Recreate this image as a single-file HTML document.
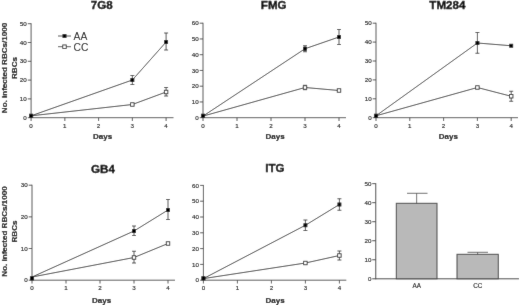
<!DOCTYPE html>
<html><head><meta charset="utf-8"><style>
html,body{margin:0;padding:0;background:#fff;}
body{width:520px;height:305px;overflow:hidden;}
svg{display:block;font-family:"Liberation Sans",sans-serif;fill:#000;}
</style></head><body>
<svg width="520" height="305" viewBox="0 0 520 305">
<defs><filter id="bl" x="0" y="0" width="520" height="305" filterUnits="userSpaceOnUse"><feConvolveMatrix order="3" kernelMatrix="0.01 0.055 0.01 0.055 0.74 0.055 0.01 0.055 0.01" divisor="1" edgeMode="duplicate" preserveAlpha="true"/></filter></defs>
<g filter="url(#bl)">
<rect width="520" height="305" fill="#fff"/>
<line x1="31.1" y1="23.25" x2="31.1" y2="118.15" stroke="#444" stroke-width="0.9"/>
<line x1="31.1" y1="117.7" x2="173.5" y2="117.7" stroke="#444" stroke-width="0.9"/>
<line x1="27.8" y1="117.7" x2="31.1" y2="117.7" stroke="#444" stroke-width="0.9"/>
<text x="26.7" y="119.85" font-size="6.2" text-anchor="end" stroke="#000" stroke-width="0.12">0</text>
<line x1="27.8" y1="98.9" x2="31.1" y2="98.9" stroke="#444" stroke-width="0.9"/>
<text x="26.7" y="101.05" font-size="6.2" text-anchor="end" stroke="#000" stroke-width="0.12">10</text>
<line x1="27.8" y1="80.1" x2="31.1" y2="80.1" stroke="#444" stroke-width="0.9"/>
<text x="26.7" y="82.25" font-size="6.2" text-anchor="end" stroke="#000" stroke-width="0.12">20</text>
<line x1="27.8" y1="61.3" x2="31.1" y2="61.3" stroke="#444" stroke-width="0.9"/>
<text x="26.7" y="63.45" font-size="6.2" text-anchor="end" stroke="#000" stroke-width="0.12">30</text>
<line x1="27.8" y1="42.5" x2="31.1" y2="42.5" stroke="#444" stroke-width="0.9"/>
<text x="26.7" y="44.65" font-size="6.2" text-anchor="end" stroke="#000" stroke-width="0.12">40</text>
<line x1="27.8" y1="23.7" x2="31.1" y2="23.7" stroke="#444" stroke-width="0.9"/>
<text x="26.7" y="25.85" font-size="6.2" text-anchor="end" stroke="#000" stroke-width="0.12">50</text>
<line x1="31.1" y1="117.7" x2="31.1" y2="121" stroke="#444" stroke-width="0.9"/>
<text x="31.1" y="127.5" font-size="6.2" text-anchor="middle" stroke="#000" stroke-width="0.12">0</text>
<line x1="64.85" y1="117.7" x2="64.85" y2="121" stroke="#444" stroke-width="0.9"/>
<text x="64.85" y="127.5" font-size="6.2" text-anchor="middle" stroke="#000" stroke-width="0.12">1</text>
<line x1="98.6" y1="117.7" x2="98.6" y2="121" stroke="#444" stroke-width="0.9"/>
<text x="98.6" y="127.5" font-size="6.2" text-anchor="middle" stroke="#000" stroke-width="0.12">2</text>
<line x1="132.35" y1="117.7" x2="132.35" y2="121" stroke="#444" stroke-width="0.9"/>
<text x="132.35" y="127.5" font-size="6.2" text-anchor="middle" stroke="#000" stroke-width="0.12">3</text>
<line x1="166.1" y1="117.7" x2="166.1" y2="121" stroke="#444" stroke-width="0.9"/>
<text x="166.1" y="127.5" font-size="6.2" text-anchor="middle" stroke="#000" stroke-width="0.12">4</text>
<text x="90.8" y="9.4" font-size="11.6" text-anchor="start" font-weight="bold" stroke="#000" stroke-width="0.35">7G8</text>
<text x="93" y="139.3" font-size="8" text-anchor="start" font-weight="bold" stroke="#000" stroke-width="0.15">Days</text>
<polyline fill="none" stroke="#262626" stroke-width="0.85" points="31.1,115.82 132.35,80 166.1,42"/>
<polyline fill="none" stroke="#262626" stroke-width="0.85" points="31.1,115.82 132.35,104.5 166.1,92"/>
<line x1="132.35" y1="75.5" x2="132.35" y2="84.5" stroke="#2a2a2a" stroke-width="0.8"/>
<line x1="130.35" y1="75.5" x2="134.35" y2="75.5" stroke="#2a2a2a" stroke-width="0.8"/>
<line x1="130.35" y1="84.5" x2="134.35" y2="84.5" stroke="#2a2a2a" stroke-width="0.8"/>
<line x1="166.1" y1="33" x2="166.1" y2="50" stroke="#2a2a2a" stroke-width="0.8"/>
<line x1="164.1" y1="33" x2="168.1" y2="33" stroke="#2a2a2a" stroke-width="0.8"/>
<line x1="164.1" y1="50" x2="168.1" y2="50" stroke="#2a2a2a" stroke-width="0.8"/>
<rect x="130.4" y="78.05" width="3.9" height="3.9" fill="#000"/>
<rect x="164.15" y="40.05" width="3.9" height="3.9" fill="#000"/>
<line x1="166.1" y1="87.5" x2="166.1" y2="96" stroke="#2a2a2a" stroke-width="0.8"/>
<line x1="164.1" y1="87.5" x2="168.1" y2="87.5" stroke="#2a2a2a" stroke-width="0.8"/>
<line x1="164.1" y1="96" x2="168.1" y2="96" stroke="#2a2a2a" stroke-width="0.8"/>
<rect x="130.6" y="102.75" width="3.5" height="3.5" fill="#fff" stroke="#222" stroke-width="0.85"/>
<rect x="164.35" y="90.25" width="3.5" height="3.5" fill="#fff" stroke="#222" stroke-width="0.85"/>
<rect x="29.05" y="113.75" width="4.1" height="4.1" fill="#000"/>
<line x1="203" y1="22.75" x2="203" y2="118.15" stroke="#444" stroke-width="0.9"/>
<line x1="203" y1="117.7" x2="346" y2="117.7" stroke="#444" stroke-width="0.9"/>
<line x1="199.7" y1="117.7" x2="203" y2="117.7" stroke="#444" stroke-width="0.9"/>
<text x="198.6" y="119.85" font-size="6.2" text-anchor="end" stroke="#000" stroke-width="0.12">0</text>
<line x1="199.7" y1="101.95" x2="203" y2="101.95" stroke="#444" stroke-width="0.9"/>
<text x="198.6" y="104.1" font-size="6.2" text-anchor="end" stroke="#000" stroke-width="0.12">10</text>
<line x1="199.7" y1="86.2" x2="203" y2="86.2" stroke="#444" stroke-width="0.9"/>
<text x="198.6" y="88.35" font-size="6.2" text-anchor="end" stroke="#000" stroke-width="0.12">20</text>
<line x1="199.7" y1="70.45" x2="203" y2="70.45" stroke="#444" stroke-width="0.9"/>
<text x="198.6" y="72.6" font-size="6.2" text-anchor="end" stroke="#000" stroke-width="0.12">30</text>
<line x1="199.7" y1="54.7" x2="203" y2="54.7" stroke="#444" stroke-width="0.9"/>
<text x="198.6" y="56.85" font-size="6.2" text-anchor="end" stroke="#000" stroke-width="0.12">40</text>
<line x1="199.7" y1="38.95" x2="203" y2="38.95" stroke="#444" stroke-width="0.9"/>
<text x="198.6" y="41.1" font-size="6.2" text-anchor="end" stroke="#000" stroke-width="0.12">50</text>
<line x1="199.7" y1="23.2" x2="203" y2="23.2" stroke="#444" stroke-width="0.9"/>
<text x="198.6" y="25.35" font-size="6.2" text-anchor="end" stroke="#000" stroke-width="0.12">60</text>
<line x1="203" y1="117.7" x2="203" y2="121" stroke="#444" stroke-width="0.9"/>
<text x="203" y="127.5" font-size="6.2" text-anchor="middle" stroke="#000" stroke-width="0.12">0</text>
<line x1="237" y1="117.7" x2="237" y2="121" stroke="#444" stroke-width="0.9"/>
<text x="237" y="127.5" font-size="6.2" text-anchor="middle" stroke="#000" stroke-width="0.12">1</text>
<line x1="271" y1="117.7" x2="271" y2="121" stroke="#444" stroke-width="0.9"/>
<text x="271" y="127.5" font-size="6.2" text-anchor="middle" stroke="#000" stroke-width="0.12">2</text>
<line x1="305" y1="117.7" x2="305" y2="121" stroke="#444" stroke-width="0.9"/>
<text x="305" y="127.5" font-size="6.2" text-anchor="middle" stroke="#000" stroke-width="0.12">3</text>
<line x1="339" y1="117.7" x2="339" y2="121" stroke="#444" stroke-width="0.9"/>
<text x="339" y="127.5" font-size="6.2" text-anchor="middle" stroke="#000" stroke-width="0.12">4</text>
<text x="260.8" y="9.4" font-size="11.6" text-anchor="start" font-weight="bold" stroke="#000" stroke-width="0.35">FMG</text>
<text x="265.5" y="139.3" font-size="8" text-anchor="start" font-weight="bold" stroke="#000" stroke-width="0.15">Days</text>
<polyline fill="none" stroke="#262626" stroke-width="0.85" points="203,116.12 305,48.75 339,37"/>
<polyline fill="none" stroke="#262626" stroke-width="0.85" points="203,116.12 305,87.5 339,90.5"/>
<line x1="305" y1="45.75" x2="305" y2="51.75" stroke="#2a2a2a" stroke-width="0.8"/>
<line x1="303" y1="45.75" x2="307" y2="45.75" stroke="#2a2a2a" stroke-width="0.8"/>
<line x1="303" y1="51.75" x2="307" y2="51.75" stroke="#2a2a2a" stroke-width="0.8"/>
<line x1="339" y1="29.5" x2="339" y2="44.5" stroke="#2a2a2a" stroke-width="0.8"/>
<line x1="337" y1="29.5" x2="341" y2="29.5" stroke="#2a2a2a" stroke-width="0.8"/>
<line x1="337" y1="44.5" x2="341" y2="44.5" stroke="#2a2a2a" stroke-width="0.8"/>
<rect x="303.05" y="46.8" width="3.9" height="3.9" fill="#000"/>
<rect x="337.05" y="35.05" width="3.9" height="3.9" fill="#000"/>
<line x1="305" y1="85.3" x2="305" y2="89.7" stroke="#2a2a2a" stroke-width="0.8"/>
<line x1="303" y1="85.3" x2="307" y2="85.3" stroke="#2a2a2a" stroke-width="0.8"/>
<line x1="303" y1="89.7" x2="307" y2="89.7" stroke="#2a2a2a" stroke-width="0.8"/>
<rect x="303.25" y="85.75" width="3.5" height="3.5" fill="#fff" stroke="#222" stroke-width="0.85"/>
<rect x="337.25" y="88.75" width="3.5" height="3.5" fill="#fff" stroke="#222" stroke-width="0.85"/>
<rect x="200.95" y="113.75" width="4.1" height="4.1" fill="#000"/>
<line x1="376" y1="22.75" x2="376" y2="118.15" stroke="#444" stroke-width="0.9"/>
<line x1="376" y1="117.7" x2="518" y2="117.7" stroke="#444" stroke-width="0.9"/>
<line x1="372.7" y1="117.7" x2="376" y2="117.7" stroke="#444" stroke-width="0.9"/>
<text x="371.6" y="119.85" font-size="6.2" text-anchor="end" stroke="#000" stroke-width="0.12">0</text>
<line x1="372.7" y1="98.8" x2="376" y2="98.8" stroke="#444" stroke-width="0.9"/>
<text x="371.6" y="100.95" font-size="6.2" text-anchor="end" stroke="#000" stroke-width="0.12">10</text>
<line x1="372.7" y1="79.9" x2="376" y2="79.9" stroke="#444" stroke-width="0.9"/>
<text x="371.6" y="82.05" font-size="6.2" text-anchor="end" stroke="#000" stroke-width="0.12">20</text>
<line x1="372.7" y1="61" x2="376" y2="61" stroke="#444" stroke-width="0.9"/>
<text x="371.6" y="63.15" font-size="6.2" text-anchor="end" stroke="#000" stroke-width="0.12">30</text>
<line x1="372.7" y1="42.1" x2="376" y2="42.1" stroke="#444" stroke-width="0.9"/>
<text x="371.6" y="44.25" font-size="6.2" text-anchor="end" stroke="#000" stroke-width="0.12">40</text>
<line x1="372.7" y1="23.2" x2="376" y2="23.2" stroke="#444" stroke-width="0.9"/>
<text x="371.6" y="25.35" font-size="6.2" text-anchor="end" stroke="#000" stroke-width="0.12">50</text>
<line x1="376" y1="117.7" x2="376" y2="121" stroke="#444" stroke-width="0.9"/>
<text x="376" y="127.5" font-size="6.2" text-anchor="middle" stroke="#000" stroke-width="0.12">0</text>
<line x1="409.8" y1="117.7" x2="409.8" y2="121" stroke="#444" stroke-width="0.9"/>
<text x="409.8" y="127.5" font-size="6.2" text-anchor="middle" stroke="#000" stroke-width="0.12">1</text>
<line x1="443.6" y1="117.7" x2="443.6" y2="121" stroke="#444" stroke-width="0.9"/>
<text x="443.6" y="127.5" font-size="6.2" text-anchor="middle" stroke="#000" stroke-width="0.12">2</text>
<line x1="477.4" y1="117.7" x2="477.4" y2="121" stroke="#444" stroke-width="0.9"/>
<text x="477.4" y="127.5" font-size="6.2" text-anchor="middle" stroke="#000" stroke-width="0.12">3</text>
<line x1="511.2" y1="117.7" x2="511.2" y2="121" stroke="#444" stroke-width="0.9"/>
<text x="511.2" y="127.5" font-size="6.2" text-anchor="middle" stroke="#000" stroke-width="0.12">4</text>
<text x="429.3" y="9.4" font-size="11.6" text-anchor="start" font-weight="bold" stroke="#000" stroke-width="0.35">TM284</text>
<text x="438.8" y="139.3" font-size="8" text-anchor="start" font-weight="bold" stroke="#000" stroke-width="0.15">Days</text>
<polyline fill="none" stroke="#262626" stroke-width="0.85" points="376,115.81 477.4,43 511.2,45.75"/>
<polyline fill="none" stroke="#262626" stroke-width="0.85" points="376,115.81 477.4,87.5 511.2,96.25"/>
<line x1="477.4" y1="32.5" x2="477.4" y2="53.25" stroke="#2a2a2a" stroke-width="0.8"/>
<line x1="475.4" y1="32.5" x2="479.4" y2="32.5" stroke="#2a2a2a" stroke-width="0.8"/>
<line x1="475.4" y1="53.25" x2="479.4" y2="53.25" stroke="#2a2a2a" stroke-width="0.8"/>
<rect x="475.45" y="41.05" width="3.9" height="3.9" fill="#000"/>
<rect x="509.25" y="43.8" width="3.9" height="3.9" fill="#000"/>
<line x1="511.2" y1="91.25" x2="511.2" y2="101.25" stroke="#2a2a2a" stroke-width="0.8"/>
<line x1="509.2" y1="91.25" x2="513.2" y2="91.25" stroke="#2a2a2a" stroke-width="0.8"/>
<line x1="509.2" y1="101.25" x2="513.2" y2="101.25" stroke="#2a2a2a" stroke-width="0.8"/>
<rect x="475.65" y="85.75" width="3.5" height="3.5" fill="#fff" stroke="#222" stroke-width="0.85"/>
<rect x="509.45" y="94.5" width="3.5" height="3.5" fill="#fff" stroke="#222" stroke-width="0.85"/>
<rect x="373.95" y="113.75" width="4.1" height="4.1" fill="#000"/>
<line x1="32" y1="184.74" x2="32" y2="280.65" stroke="#444" stroke-width="0.9"/>
<line x1="32" y1="280.2" x2="175" y2="280.2" stroke="#444" stroke-width="0.9"/>
<line x1="28.7" y1="280.2" x2="32" y2="280.2" stroke="#444" stroke-width="0.9"/>
<text x="27.6" y="282.35" font-size="6.2" text-anchor="end" stroke="#000" stroke-width="0.12">0</text>
<line x1="28.7" y1="248.53" x2="32" y2="248.53" stroke="#444" stroke-width="0.9"/>
<text x="27.6" y="250.68" font-size="6.2" text-anchor="end" stroke="#000" stroke-width="0.12">10</text>
<line x1="28.7" y1="216.86" x2="32" y2="216.86" stroke="#444" stroke-width="0.9"/>
<text x="27.6" y="219.01" font-size="6.2" text-anchor="end" stroke="#000" stroke-width="0.12">20</text>
<line x1="28.7" y1="185.19" x2="32" y2="185.19" stroke="#444" stroke-width="0.9"/>
<text x="27.6" y="187.34" font-size="6.2" text-anchor="end" stroke="#000" stroke-width="0.12">30</text>
<line x1="32" y1="280.2" x2="32" y2="283.5" stroke="#444" stroke-width="0.9"/>
<text x="32" y="290" font-size="6.2" text-anchor="middle" stroke="#000" stroke-width="0.12">0</text>
<line x1="66" y1="280.2" x2="66" y2="283.5" stroke="#444" stroke-width="0.9"/>
<text x="66" y="290" font-size="6.2" text-anchor="middle" stroke="#000" stroke-width="0.12">1</text>
<line x1="100" y1="280.2" x2="100" y2="283.5" stroke="#444" stroke-width="0.9"/>
<text x="100" y="290" font-size="6.2" text-anchor="middle" stroke="#000" stroke-width="0.12">2</text>
<line x1="134" y1="280.2" x2="134" y2="283.5" stroke="#444" stroke-width="0.9"/>
<text x="134" y="290" font-size="6.2" text-anchor="middle" stroke="#000" stroke-width="0.12">3</text>
<line x1="168" y1="280.2" x2="168" y2="283.5" stroke="#444" stroke-width="0.9"/>
<text x="168" y="290" font-size="6.2" text-anchor="middle" stroke="#000" stroke-width="0.12">4</text>
<text x="91.1" y="173" font-size="11.6" text-anchor="start" font-weight="bold" stroke="#000" stroke-width="0.35">GB4</text>
<text x="92" y="302.6" font-size="8" text-anchor="start" font-weight="bold" stroke="#000" stroke-width="0.15">Days</text>
<polyline fill="none" stroke="#262626" stroke-width="0.85" points="32,277.03 134,231 168,210"/>
<polyline fill="none" stroke="#262626" stroke-width="0.85" points="32,277.03 134,257.5 168,243.5"/>
<line x1="134" y1="226" x2="134" y2="235.5" stroke="#2a2a2a" stroke-width="0.8"/>
<line x1="132" y1="226" x2="136" y2="226" stroke="#2a2a2a" stroke-width="0.8"/>
<line x1="132" y1="235.5" x2="136" y2="235.5" stroke="#2a2a2a" stroke-width="0.8"/>
<line x1="168" y1="199.5" x2="168" y2="219.5" stroke="#2a2a2a" stroke-width="0.8"/>
<line x1="166" y1="199.5" x2="170" y2="199.5" stroke="#2a2a2a" stroke-width="0.8"/>
<line x1="166" y1="219.5" x2="170" y2="219.5" stroke="#2a2a2a" stroke-width="0.8"/>
<rect x="132.05" y="229.05" width="3.9" height="3.9" fill="#000"/>
<rect x="166.05" y="208.05" width="3.9" height="3.9" fill="#000"/>
<line x1="134" y1="251.25" x2="134" y2="263" stroke="#2a2a2a" stroke-width="0.8"/>
<line x1="132" y1="251.25" x2="136" y2="251.25" stroke="#2a2a2a" stroke-width="0.8"/>
<line x1="132" y1="263" x2="136" y2="263" stroke="#2a2a2a" stroke-width="0.8"/>
<rect x="132.25" y="255.75" width="3.5" height="3.5" fill="#fff" stroke="#222" stroke-width="0.85"/>
<rect x="166.25" y="241.75" width="3.5" height="3.5" fill="#fff" stroke="#222" stroke-width="0.85"/>
<rect x="29.95" y="276.25" width="4.1" height="4.1" fill="#000"/>
<line x1="203.4" y1="184.95" x2="203.4" y2="280.65" stroke="#444" stroke-width="0.9"/>
<line x1="203.4" y1="280.2" x2="346.3" y2="280.2" stroke="#444" stroke-width="0.9"/>
<line x1="200.1" y1="280.2" x2="203.4" y2="280.2" stroke="#444" stroke-width="0.9"/>
<text x="199" y="282.35" font-size="6.2" text-anchor="end" stroke="#000" stroke-width="0.12">0</text>
<line x1="200.1" y1="264.4" x2="203.4" y2="264.4" stroke="#444" stroke-width="0.9"/>
<text x="199" y="266.55" font-size="6.2" text-anchor="end" stroke="#000" stroke-width="0.12">10</text>
<line x1="200.1" y1="248.6" x2="203.4" y2="248.6" stroke="#444" stroke-width="0.9"/>
<text x="199" y="250.75" font-size="6.2" text-anchor="end" stroke="#000" stroke-width="0.12">20</text>
<line x1="200.1" y1="232.8" x2="203.4" y2="232.8" stroke="#444" stroke-width="0.9"/>
<text x="199" y="234.95" font-size="6.2" text-anchor="end" stroke="#000" stroke-width="0.12">30</text>
<line x1="200.1" y1="217" x2="203.4" y2="217" stroke="#444" stroke-width="0.9"/>
<text x="199" y="219.15" font-size="6.2" text-anchor="end" stroke="#000" stroke-width="0.12">40</text>
<line x1="200.1" y1="201.2" x2="203.4" y2="201.2" stroke="#444" stroke-width="0.9"/>
<text x="199" y="203.35" font-size="6.2" text-anchor="end" stroke="#000" stroke-width="0.12">50</text>
<line x1="200.1" y1="185.4" x2="203.4" y2="185.4" stroke="#444" stroke-width="0.9"/>
<text x="199" y="187.55" font-size="6.2" text-anchor="end" stroke="#000" stroke-width="0.12">60</text>
<line x1="203.4" y1="280.2" x2="203.4" y2="283.5" stroke="#444" stroke-width="0.9"/>
<text x="203.4" y="290" font-size="6.2" text-anchor="middle" stroke="#000" stroke-width="0.12">0</text>
<line x1="237.4" y1="280.2" x2="237.4" y2="283.5" stroke="#444" stroke-width="0.9"/>
<text x="237.4" y="290" font-size="6.2" text-anchor="middle" stroke="#000" stroke-width="0.12">1</text>
<line x1="271.4" y1="280.2" x2="271.4" y2="283.5" stroke="#444" stroke-width="0.9"/>
<text x="271.4" y="290" font-size="6.2" text-anchor="middle" stroke="#000" stroke-width="0.12">2</text>
<line x1="305.4" y1="280.2" x2="305.4" y2="283.5" stroke="#444" stroke-width="0.9"/>
<text x="305.4" y="290" font-size="6.2" text-anchor="middle" stroke="#000" stroke-width="0.12">3</text>
<line x1="339.4" y1="280.2" x2="339.4" y2="283.5" stroke="#444" stroke-width="0.9"/>
<text x="339.4" y="290" font-size="6.2" text-anchor="middle" stroke="#000" stroke-width="0.12">4</text>
<text x="265.3" y="172.3" font-size="11.6" text-anchor="start" font-weight="bold" stroke="#000" stroke-width="0.35">ITG</text>
<text x="265.5" y="302.6" font-size="8" text-anchor="start" font-weight="bold" stroke="#000" stroke-width="0.15">Days</text>
<polyline fill="none" stroke="#262626" stroke-width="0.85" points="203.4,278.62 305.4,225.25 339.4,204.5"/>
<polyline fill="none" stroke="#262626" stroke-width="0.85" points="203.4,278.62 305.4,263 339.4,255.5"/>
<line x1="305.4" y1="220" x2="305.4" y2="230.5" stroke="#2a2a2a" stroke-width="0.8"/>
<line x1="303.4" y1="220" x2="307.4" y2="220" stroke="#2a2a2a" stroke-width="0.8"/>
<line x1="303.4" y1="230.5" x2="307.4" y2="230.5" stroke="#2a2a2a" stroke-width="0.8"/>
<line x1="339.4" y1="198.75" x2="339.4" y2="210.25" stroke="#2a2a2a" stroke-width="0.8"/>
<line x1="337.4" y1="198.75" x2="341.4" y2="198.75" stroke="#2a2a2a" stroke-width="0.8"/>
<line x1="337.4" y1="210.25" x2="341.4" y2="210.25" stroke="#2a2a2a" stroke-width="0.8"/>
<rect x="303.45" y="223.3" width="3.9" height="3.9" fill="#000"/>
<rect x="337.45" y="202.55" width="3.9" height="3.9" fill="#000"/>
<line x1="339.4" y1="251" x2="339.4" y2="260" stroke="#2a2a2a" stroke-width="0.8"/>
<line x1="337.4" y1="251" x2="341.4" y2="251" stroke="#2a2a2a" stroke-width="0.8"/>
<line x1="337.4" y1="260" x2="341.4" y2="260" stroke="#2a2a2a" stroke-width="0.8"/>
<rect x="303.65" y="261.25" width="3.5" height="3.5" fill="#fff" stroke="#222" stroke-width="0.85"/>
<rect x="337.65" y="253.75" width="3.5" height="3.5" fill="#fff" stroke="#222" stroke-width="0.85"/>
<rect x="201.35" y="276.25" width="4.1" height="4.1" fill="#000"/>
<line x1="58" y1="36" x2="71" y2="36" stroke="#444" stroke-width="0.9"/>
<rect x="62.55" y="34.05" width="3.9" height="3.9" fill="#000"/>
<line x1="58" y1="46.7" x2="71" y2="46.7" stroke="#444" stroke-width="0.9"/>
<rect x="62.75" y="44.95" width="3.5" height="3.5" fill="#fff" stroke="#222" stroke-width="0.85"/>
<text x="73.6" y="40" font-size="10.3" text-anchor="start">AA</text>
<text x="73.6" y="50.7" font-size="10.3" text-anchor="start">CC</text>
<text transform="translate(6.7,68) rotate(-90)" font-size="8.05" font-weight="bold" text-anchor="middle" stroke="#000" stroke-width="0.18">No. infected RBCs/1000</text>
<text transform="translate(16.7,68) rotate(-90)" font-size="8.05" font-weight="bold" text-anchor="middle" stroke="#000" stroke-width="0.18">RBCs</text>
<text transform="translate(6.7,231.5) rotate(-90)" font-size="8.05" font-weight="bold" text-anchor="middle" stroke="#000" stroke-width="0.18">No. infected RBCs/1000</text>
<text transform="translate(16.7,231.5) rotate(-90)" font-size="8.05" font-weight="bold" text-anchor="middle" stroke="#000" stroke-width="0.18">RBCs</text>
<line x1="375.75" y1="183.15" x2="375.75" y2="279.3" stroke="#444" stroke-width="1"/>
<line x1="375.75" y1="278.8" x2="519" y2="278.8" stroke="#444" stroke-width="1"/>
<line x1="372.25" y1="278.8" x2="375.75" y2="278.8" stroke="#444" stroke-width="1"/>
<text x="371.35" y="280.95" font-size="6.2" text-anchor="end" stroke="#000" stroke-width="0.12">0</text>
<line x1="372.25" y1="259.77" x2="375.75" y2="259.77" stroke="#444" stroke-width="1"/>
<text x="371.35" y="261.92" font-size="6.2" text-anchor="end" stroke="#000" stroke-width="0.12">10</text>
<line x1="372.25" y1="240.74" x2="375.75" y2="240.74" stroke="#444" stroke-width="1"/>
<text x="371.35" y="242.89" font-size="6.2" text-anchor="end" stroke="#000" stroke-width="0.12">20</text>
<line x1="372.25" y1="221.71" x2="375.75" y2="221.71" stroke="#444" stroke-width="1"/>
<text x="371.35" y="223.86" font-size="6.2" text-anchor="end" stroke="#000" stroke-width="0.12">30</text>
<line x1="372.25" y1="202.68" x2="375.75" y2="202.68" stroke="#444" stroke-width="1"/>
<text x="371.35" y="204.83" font-size="6.2" text-anchor="end" stroke="#000" stroke-width="0.12">40</text>
<line x1="372.25" y1="183.65" x2="375.75" y2="183.65" stroke="#444" stroke-width="1"/>
<text x="371.35" y="185.8" font-size="6.2" text-anchor="end" stroke="#000" stroke-width="0.12">50</text>
<rect x="396.3" y="203.3" width="40.7" height="75.5" fill="#b9b9b9" stroke="#444" stroke-width="1"/>
<line x1="416.65" y1="193.3" x2="416.65" y2="203.3" stroke="#444" stroke-width="0.8"/>
<line x1="407" y1="193.3" x2="427.5" y2="193.3" stroke="#444" stroke-width="0.8"/>
<rect x="457" y="254.3" width="41.3" height="24.5" fill="#b9b9b9" stroke="#444" stroke-width="1"/>
<line x1="477.65" y1="252.3" x2="477.65" y2="254.3" stroke="#444" stroke-width="0.8"/>
<line x1="467.5" y1="252.3" x2="488" y2="252.3" stroke="#444" stroke-width="0.8"/>
<text x="416.8" y="287.9" font-size="6.3" text-anchor="middle" stroke="#000" stroke-width="0.12">AA</text>
<text x="477.8" y="287.9" font-size="6.3" text-anchor="middle" stroke="#000" stroke-width="0.12">CC</text>
</g>
</svg>
</body></html>
